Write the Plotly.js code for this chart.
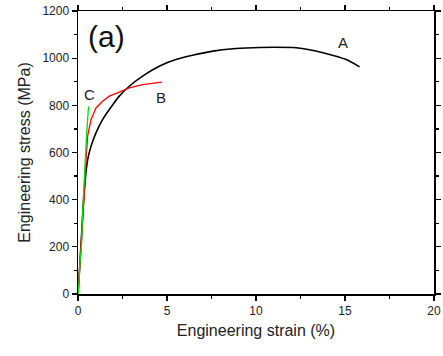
<!DOCTYPE html>
<html><head><meta charset="utf-8">
<script src="https://cdn.plot.ly/plotly-3.0.1.min.js"></script>
<style>html,body{margin:0;padding:0;background:#fff}#chart{width:443px;height:356px}</style>
</head><body><div id="chart"></div>
<script>
const strainA = [0, 0.1, 0.2, 0.3, 0.4, 0.54, 0.73, 1.01, 1.38, 1.76, 2.32, 2.88, 3.63, 4.56, 5.5, 6.43, 7.59, 8.7, 9.83, 11.0, 12.26, 13.0, 13.76, 15.07, 15.82];
const stressA = [0, 120, 250, 380, 480, 569, 626, 683, 739, 782, 839, 881, 924, 966, 994, 1012, 1030, 1040, 1044, 1046, 1044, 1036, 1023, 994, 963];
const strainB = [0, 0.11, 0.21, 0.3, 0.39, 0.45, 0.54, 0.73, 1.01, 1.38, 1.76, 2.32, 2.88, 3.63, 4.2, 4.71];
const stressB = [0, 131, 222, 350, 471, 569, 669, 739, 789, 817, 839, 856, 874, 888, 894, 898];
const strainC = [0, 0.02, 0.11, 0.21, 0.26, 0.34, 0.39, 0.49, 0.58, 0.62];
const stressC = [0, 0, 131, 222, 350, 471, 584, 683, 782, 796];
const curveLabels = ['A', 'B', 'C'];
const labelX = [14.86, 4.69, 0.67];
const labelY = [1066, 832, 846];

const font = 'Liberation Sans, Arial, sans-serif';
const traces = [
  {x: strainA, y: stressA, mode: 'lines', line: {color: '#000000', width: 1.6, shape: 'spline', smoothing: 0.6}, name: 'A'},
  {x: strainB, y: stressB, mode: 'lines', line: {color: '#ff0000', width: 1.3}, name: 'B'},
  {x: strainC, y: stressC, mode: 'lines', line: {color: '#00dd00', width: 1.3}, name: 'C'}
];
const ann = curveLabels.map((t, i) => ({x: labelX[i], y: labelY[i], text: t, showarrow: false, xref: 'x', yref: 'y', font: {family: font, size: 15, color: '#222'}}));
ann.push({x: 1.6, y: 1094, text: '(a)', showarrow: false, xref: 'x', yref: 'y', font: {family: font, size: 30, color: '#111'}});

const axisCommon = {
  showline: true, linecolor: '#000', linewidth: 1.5, mirror: 'ticks',
  ticks: 'outside', ticklen: 5, tickwidth: 1.2, tickcolor: '#000',
  showgrid: false, zeroline: false,
  tickfont: {family: font, size: 12, color: '#222'}
};
const layout = {
  width: 443, height: 356,
  margin: {l: 78, r: 9, t: 11, b: 62},
  paper_bgcolor: '#fff', plot_bgcolor: '#fff',
  showlegend: false,
  xaxis: Object.assign({}, axisCommon, {
    range: [0, 20], tickvals: [0, 5, 10, 15, 20], ticktext: ['0', '5', '10', '15', '20'],
    minor: {tickvals: [2.5, 7.5, 12.5, 17.5], ticks: 'outside', ticklen: 3, tickwidth: 1.2, tickcolor: '#000'},
    title: {text: 'Engineering strain (%)', font: {family: font, size: 16, color: '#222'}, standoff: 8}
  }),
  yaxis: Object.assign({}, axisCommon, {
    range: [0, 1200], tickvals: [0, 200, 400, 600, 800, 1000, 1200],
    minor: {tickvals: [100, 300, 500, 700, 900, 1100], ticks: 'outside', ticklen: 3, tickwidth: 1.2, tickcolor: '#000'},
    title: {text: 'Engineering stress (MPa)', font: {family: font, size: 16, color: '#222'}, standoff: 8}
  }),
  annotations: ann
};
Plotly.newPlot('chart', traces, layout, {displayModeBar: false, staticPlot: true});
</script></body></html>
